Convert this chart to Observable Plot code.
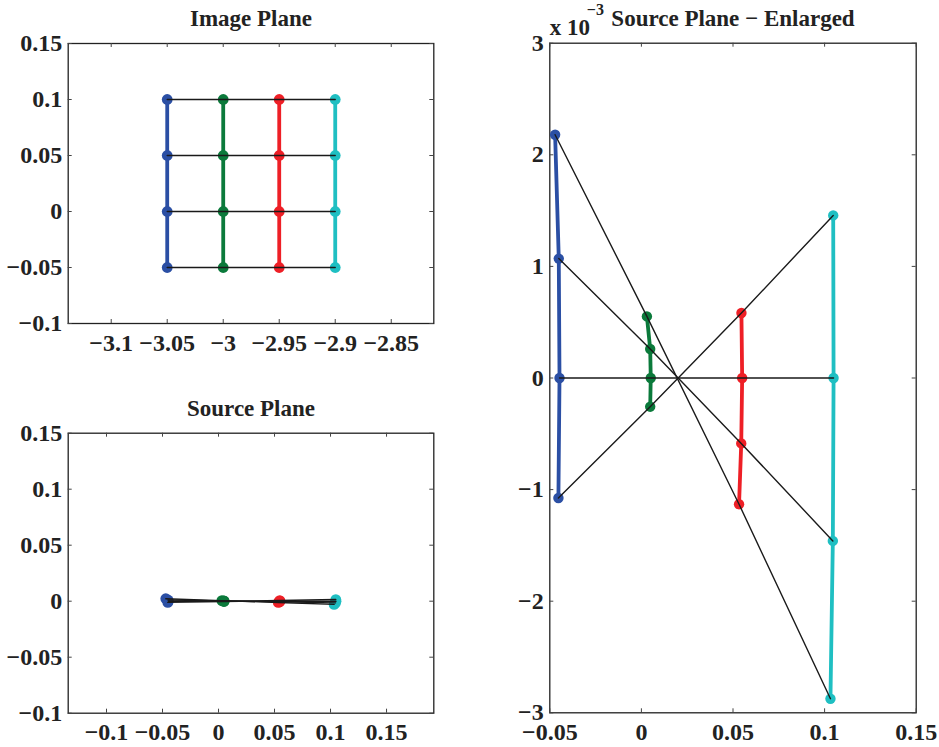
<!DOCTYPE html>
<html>
<head>
<meta charset="utf-8">
<script src="https://cdn.jsdelivr.net/npm/d3@7"></script>
<script src="https://cdn.jsdelivr.net/npm/@observablehq/plot@0.6"></script>
<style>
  html, body { margin: 0; padding: 0; background: #fff; }
  #wrap { position: relative; width: 939px; height: 747px; overflow: hidden; }
  #wrap > svg { position: absolute; }
</style>
</head>
<body>
<div id="wrap"></div>
<script>
// ---- data ----
const columns = ["x = -3.05", "x = -3", "x = -2.95", "x = -2.9"];
const columnColors = ["#2b4fa4", "#0b7a3b", "#ee1f26", "#1fbfc2"];
const imageX = [-3.05, -3, -2.95, -2.9];          // image-plane column x
const imageY = [0.1, 0.05, 0, -0.05];             // image-plane row y
// source-plane positions, one list per column, in row order (0.1, 0.05, 0, -0.05)
const sourceX = [
  [-0.0471, -0.0451, -0.0447, -0.0453],
  [0.0030, 0.0048, 0.0051, 0.0048],
  [0.0533, 0.0545, 0.0550, 0.0546],
  [0.1032, 0.1045, 0.1049, 0.1047]
];
const sourceYe3 = [          // in units of 10^-3
  [2.18, 1.07, 0, -1.075],
  [0.552, 0.26, 0, -0.257],
  [-1.131, -0.586, 0, 0.582],
  [-2.874, -1.46, 0, 1.457]
];
const tickIX = [-3.1, -3.05, -3, -2.95, -2.9, -2.85];
const tickSX = [-0.1, -0.05, 0, 0.05, 0.1, 0.15];
const tickY = [-0.1, -0.05, 0, 0.05, 0.1, 0.15];
const tickEX = [-0.05, 0, 0.05, 0.1, 0.15];
const tickEY = [-3, -2, -1, 0, 1, 2, 3];
const titles = ["Image Plane", "Source Plane", "Source Plane \u2212 Enlarged"];

// table built from arrays (column-major order)
const pts = [];
columns.forEach((c, i) => imageY.forEach((yy, j) => pts.push({
  col: c, row: j, ix: imageX[i], iy: yy, sx: sourceX[i][j], sy: sourceYe3[i][j] / 1000, sye3: sourceYe3[i][j]
})));

const fmt = d => (d < 0 ? "\u2212" + String(-d) : String(d));
const font = "'Liberation Serif', 'Times New Roman', serif";
const ink = "#222";

function panel({x, y, xDomain, yDomain, xTicks, yTicks, width, height, ml, mr, mt, mb, extra = [], dotR = 5.4}) {
  const iw = width - ml - mr, ih = height - mt - mb;
  const tk = 4;
  return Plot.plot({
    width, height, marginLeft: ml, marginRight: mr, marginTop: mt, marginBottom: mb,
    style: {fontFamily: font, fontSize: "24px", fontWeight: "bold", color: ink, background: "transparent", overflow: "visible"},
    x: {domain: xDomain, axis: null},
    y: {domain: yDomain, axis: null},
    color: {domain: columns, range: columnColors},
    marks: [
      Plot.frame({stroke: ink, strokeWidth: 1.3}),
      Plot.tickX(xTicks, {x: d => d, insetTop: ih - tk, stroke: "#444"}),
      Plot.tickX(xTicks, {x: d => d, insetBottom: ih - tk, stroke: "#444"}),
      Plot.tickY(yTicks, {y: d => d, insetRight: iw - tk, stroke: "#444"}),
      Plot.tickY(yTicks, {y: d => d, insetLeft: iw - tk, stroke: "#444"}),
      Plot.axisX(xTicks, {tickSize: 0, tickPadding: 10, tickFormat: fmt, fill: ink, label: null, fontSize: 24}),
      Plot.axisY(yTicks, {tickSize: 0, tickPadding: 6, tickFormat: fmt, fill: ink, label: null, fontSize: 24}),
      Plot.line(pts, {x, y, z: "col", stroke: "col", strokeWidth: 3.8}),
      Plot.dot(pts, {x, y, fill: "col", r: dotR}),
      Plot.line(pts, {x, y, z: "row", stroke: "#1a1a1a", strokeWidth: 1.4}),
      ...extra
    ]
  });
}

const wrap = document.getElementById("wrap");

// Image plane
const p1 = panel({
  x: "ix", y: "iy", xDomain: [-3.1384, -2.812], yDomain: [-0.1, 0.15],
  xTicks: tickIX, yTicks: tickY, width: 470, height: 370, ml: 67.7, mr: 36.7, mt: 43, mb: 47,
  extra: [Plot.text([titles[0]], {frameAnchor: "top", dy: -25, lineAnchor: "middle", fontSize: 23, fontWeight: "bold", fill: ink})]
});
p1.style.left = "0px"; p1.style.top = "0px";
wrap.appendChild(p1);

// Source plane
const p2 = panel({
  x: "sx", y: "sy", xDomain: [-0.1342, 0.1922], yDomain: [-0.1, 0.15],
  xTicks: tickSX, yTicks: tickY, width: 470, height: 377, ml: 67.7, mr: 36.7, mt: 62.7, mb: 34.3,
  extra: [Plot.text([titles[1]], {frameAnchor: "top", dy: -24.7, lineAnchor: "middle", fontSize: 23, fontWeight: "bold", fill: ink})]
});
p2.style.left = "0px"; p2.style.top = "370px";
wrap.appendChild(p2);

// Source plane enlarged
const p3 = panel({
  x: "sx", y: "sye3", xDomain: [-0.05, 0.15], yDomain: [-3, 3],
  xTicks: tickEX, yTicks: tickEY, width: 469, height: 747, ml: 79.3, mr: 23.3, mt: 42.7, mb: 34.7, dotR: 5.2,
  extra: [
    Plot.text([titles[2]], {frameAnchor: "top", dy: -25, lineAnchor: "middle", fontSize: 23, fontWeight: "bold", fill: ink}),
    Plot.text(["x 10"], {frameAnchor: "top-left", dx: 0, dy: -15.7, textAnchor: "start", lineAnchor: "middle", fontSize: 23, fontWeight: "bold", fill: ink}),
    Plot.text(["\u22123"], {frameAnchor: "top-left", dx: 37, dy: -33.5, textAnchor: "start", lineAnchor: "middle", fontSize: 16, fontWeight: "bold", fill: ink})
  ]
});
p3.style.left = "470px"; p3.style.top = "0px";
wrap.appendChild(p3);
</script>
</body>
</html>
